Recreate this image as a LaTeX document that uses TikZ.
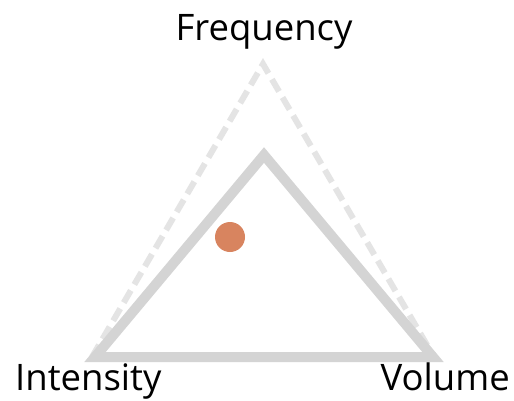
\documentclass[tikz,border=0pt]{standalone}
\usepackage{fontspec}
\setmainfont{Open Sans}
\definecolor{solidgray}{HTML}{D4D4D4}
\definecolor{dashgray}{HTML}{E4E4E4}
\definecolor{dotorange}{HTML}{D8845F}
\tikzset{
  lbl/.style={inner sep=0pt, font=\fontsize{36.5}{40}\selectfont, text=black},
  solidtri/.style={draw=solidgray, line width=10pt, line join=miter},
  dashtri/.style={draw=dashgray, line width=6pt, dash pattern=on 14pt off 7pt},
  dotstyle/.style={circle, fill=dotorange, minimum size=30pt, inner sep=0pt}
}
\begin{document}
\begin{tikzpicture}[x=1pt,y=-1pt]
\useasboundingbox (0,0) rectangle (514,400);
\fill[white] (0,0) rectangle (514,400);
% dashed outer triangle
\coordinate (dA) at (263,64);
\coordinate (dL) at (92,357);
\coordinate (dR) at (434,357);
\draw[dashtri] (dL) -- (dA) -- (dR);
% solid triangle
\coordinate (sA) at (264,155);
\coordinate (sL) at (95,357);
\coordinate (sR) at (433,357);
\draw[solidtri] (sL) -- (sA) -- (sR) -- cycle;
% dot
\node[dotstyle] (dot) at (230,237) {};
% labels
\node[lbl, anchor=base] (freq) at (264,40) {Frequency};
\node[lbl, anchor=base west] (int) at (15,390.5) {Intensity};
\node[lbl, anchor=base east] (vol) at (510,390.5) {Volume};
\end{tikzpicture}
\end{document}
